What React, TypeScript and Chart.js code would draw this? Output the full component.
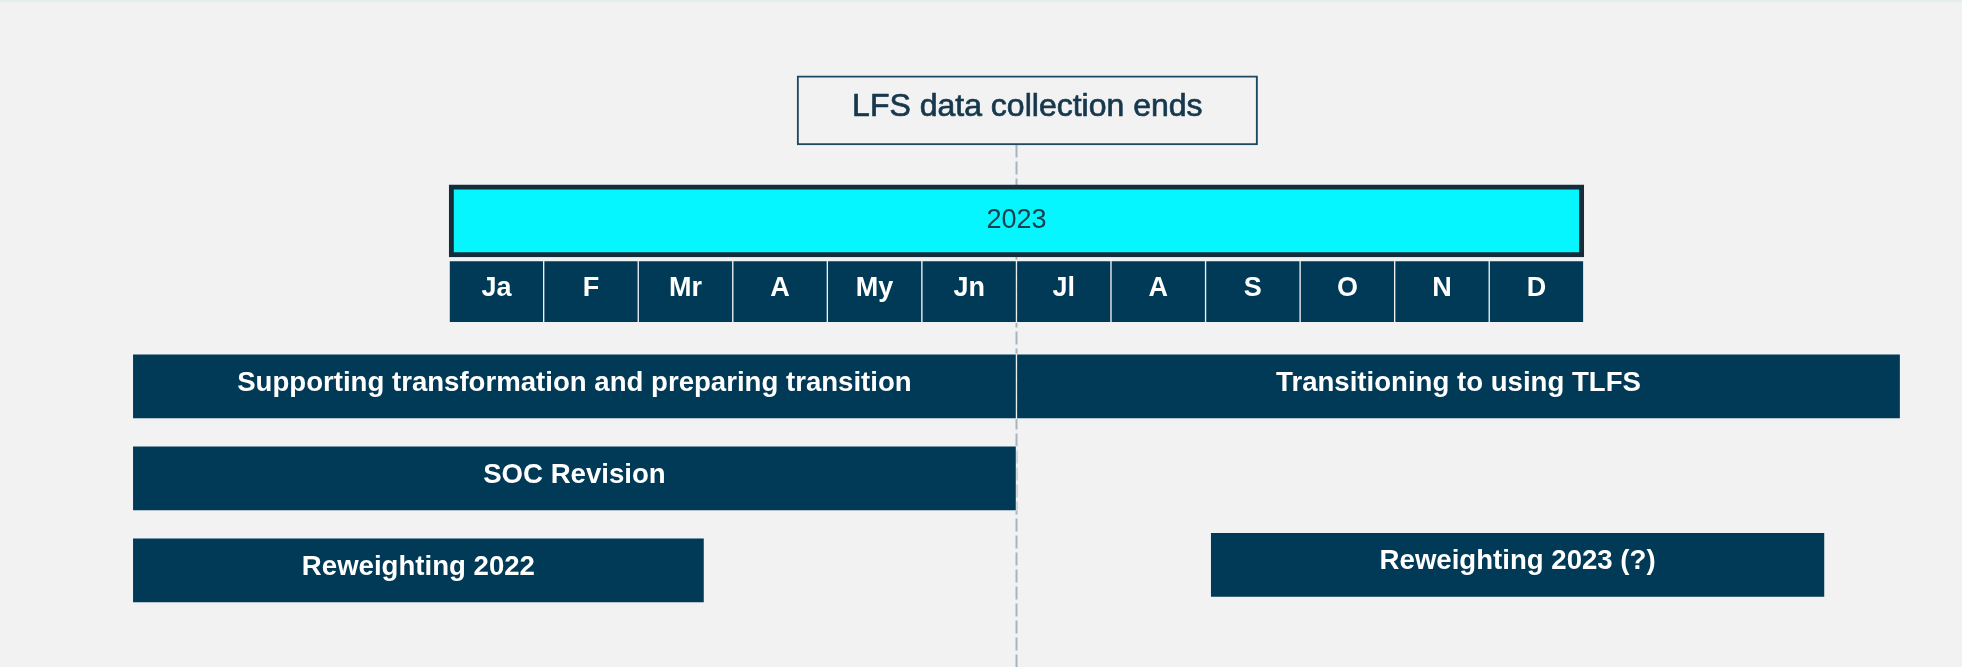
import React, { useEffect, useRef } from "react";
import { Chart, registerables } from "chart.js";

Chart.register(...registerables);

// ---- data ----
const monthLabels = ["Ja", "F", "Mr", "A", "My", "Jn", "Jl", "A", "S", "O", "N", "D"];
const yearLabel = "2023";
const yearSpan = [0, 12];
const milestoneLabel = "LFS data collection ends";
const milestoneMonth = 6; // start of July 2023
const milestoneBoxSpan = [3.68, 8.55];
const activityLabels = [
  "Supporting transformation and preparing transition",
  "Transitioning to using TLFS",
  "SOC Revision",
  "Reweighting 2022",
  "Reweighting 2023 (?)",
];
const activityStart = [-3.35, 6, -3.35, -3.35, 8.05];
const activityEnd = [6, 15.35, 6, 2.7, 14.55];
const activityRow = [3, 3, 4, 5, 4.94];
const rowMilestone = 0;
const rowYear = 1.2;
const rowMonths = 1.97;

const FONT = "'Liberation Sans', Arial, Helvetica, sans-serif";
const NAVY = "#003a57";

const bgPlugin = {
  id: "bg",
  beforeDraw(chart: any) {
    const { ctx, width, height } = chart;
    ctx.save();
    ctx.fillStyle = "#f2f2f2";
    ctx.fillRect(0, 0, width, height);
    ctx.fillStyle = "#e3efef";
    ctx.fillRect(0, 0, width, 2);
    ctx.restore();
  },
};

const milestoneLinePlugin = {
  id: "milestoneLine",
  beforeDatasetsDraw(chart: any) {
    const { ctx } = chart;
    const xs = chart.scales.x;
    const ys = chart.scales.y;
    const x = Math.round(xs.getPixelForValue(milestoneMonth)) + 0.5;
    const top = ys.getPixelForValue(rowMilestone) + 34;
    ctx.save();
    ctx.strokeStyle = "#a3b5c2";
    ctx.lineWidth = 2;
    ctx.setLineDash([13, 4]);
    ctx.beginPath();
    ctx.moveTo(x, top);
    ctx.lineTo(x, chart.height);
    ctx.stroke();
    ctx.restore();
  },
};

const labelPlugin = {
  id: "barLabels",
  afterDatasetsDraw(chart: any) {
    const { ctx } = chart;
    chart.data.datasets.forEach((ds: any, di: number) => {
      const meta = chart.getDatasetMeta(di);
      meta.data.forEach((el: any, i: number) => {
        const text = ds.texts[i];
        if (!text) return;
        const cx = (el.x + el.base) / 2;
        ctx.save();
        ctx.font = ds.textFont;
        ctx.fillStyle = ds.textColor;
        ctx.textAlign = "center";
        ctx.textBaseline = "middle";
        ctx.fillText(text, cx, el.y + ds.textDy);
        if (ds.textStroke) {
          ctx.strokeStyle = ds.textColor;
          ctx.lineWidth = ds.textStroke;
          ctx.strokeText(text, cx, el.y + ds.textDy);
        }
        ctx.restore();
      });
    });
  },
};

export default function App() {
  const ref = useRef<HTMLCanvasElement | null>(null);

  useEffect(() => {
    document.body.style.margin = "0";
    const canvas = ref.current;
    if (!canvas) return;

    const datasets: any[] = [
      {
        label: "milestone",
        data: [{ x: milestoneBoxSpan, y: rowMilestone }],
        texts: [milestoneLabel],
        textFont: `32px ${FONT}`,
        textColor: "#17384c",
        textStroke: 0.7,
        textDy: -3,
        backgroundColor: "#f2f2f2",
        borderColor: "#1e4862",
        borderWidth: 2,
        barThickness: 69,
      },
      {
        label: "year",
        data: [{ x: yearSpan, y: rowYear }],
        texts: [yearLabel],
        textFont: `27px ${FONT}`,
        textColor: "#12404f",
        textDy: 0,
        backgroundColor: "#05f6fe",
        borderColor: "#152d3a",
        borderWidth: 5,
        barThickness: 72,
      },
      {
        label: "months",
        data: monthLabels.map((_, i) => ({ x: [i, i + 1], y: rowMonths })),
        texts: monthLabels,
        textFont: `bold 27px ${FONT}`,
        textColor: "#ffffff",
        textDy: -3,
        backgroundColor: NAVY,
        borderColor: "#eef2f4",
        borderWidth: 1,
        barThickness: 62,
      },
      {
        label: "activities",
        data: activityLabels.map((_, i) => ({
          x: [activityStart[i], activityEnd[i]],
          y: activityRow[i],
        })),
        texts: activityLabels,
        textFont: `bold 27.6px ${FONT}`,
        textColor: "#ffffff",
        textDy: -3,
        backgroundColor: NAVY,
        borderColor: "#eef2f4",
        borderWidth: 1,
        barThickness: 65,
      },
    ];

    datasets.forEach((d) => {
      d.grouped = false;
      d.borderSkipped = false;
    });

    const chart = new Chart(canvas, {
      type: "bar",
      data: { datasets },
      options: {
        indexAxis: "y",
        animation: false,
        responsive: false,
        events: [],
        layout: { padding: 0 },
        plugins: {
          legend: { display: false },
          tooltip: { enabled: false },
        },
        scales: {
          x: { type: "linear", min: -4.75, max: 16, offset: false, display: false },
          y: { type: "linear", min: -1.2, max: 6.05, reverse: true, offset: false, display: false },
        },
      } as any,
      plugins: [bgPlugin, milestoneLinePlugin, labelPlugin],
    });

    return () => chart.destroy();
  }, []);

  return (
    <div style={{ width: 1962, height: 667, background: "#f2f2f2" }}>
      <canvas ref={ref} width={1962} height={667} style={{ display: "block" }} />
    </div>
  );
}
